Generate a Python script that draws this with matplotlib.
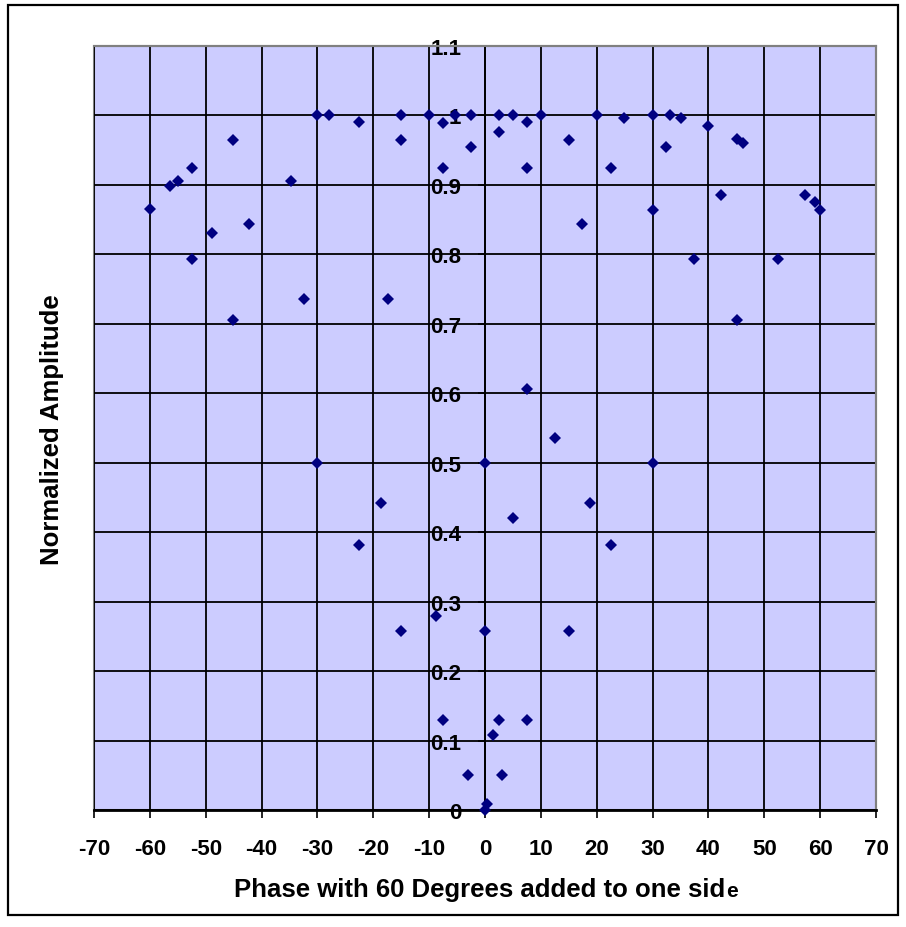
import matplotlib.pyplot as plt
from matplotlib.patches import Rectangle
from matplotlib.ticker import FuncFormatter

# phase (deg) and normalized amplitude
phase = [-60, -56.4, -54.9, -52.5, -52.5, -48.8, -45.1, -45.1, -42.3, -34.8,
         -32.4, -30, -28, -22.5, -17.4, -15.1, -15.1, -10, -7.5, -7.5,
         -5.4, -2.5, -2.5, -30, -18.7, -22.5, -8.8, -15.1, -7.5, -3.1,
         0, 0, 0.3, 0, 1.4, 2.5, 3.1,
         2.5, 2.5, 5, 7.5, 7.5, 10, 15, 17.4, 20, 22.5,
         24.9, 30, 30, 32.4, 33.1, 35.1, 37.5, 39.9, 42.3, 45.1,
         46.2, 45.1, 52.5, 57.3, 59, 60, 7.5, 12.6, 30, 18.75,
         5, 22.5, 15, 7.5]
amplitude = [0.866, 0.898, 0.905, 0.925, 0.793, 0.831, 0.965, 0.706, 0.843, 0.905,
             0.736, 1.0, 1.0, 0.990, 0.736, 1.0, 0.965, 1.0, 0.989, 0.925,
             1.0, 1.0, 0.955, 0.5, 0.442, 0.382, 0.279, 0.258, 0.130, 0.050,
             0.5, 0.258, 0.008, 0.0, 0.108, 0.130, 0.050,
             1.0, 0.976, 1.0, 0.990, 0.925, 1.0, 0.965, 0.843, 1.0, 0.925,
             0.997, 1.0, 0.864, 0.954, 1.0, 0.997, 0.793, 0.985, 0.885, 0.966,
             0.960, 0.706, 0.793, 0.885, 0.875, 0.864, 0.606, 0.536, 0.5, 0.442,
             0.420, 0.382, 0.258, 0.130]

xticks = list(range(-70, 71, 10))
yticks = [i / 10 for i in range(0, 12)]

plt.rcParams['font.family'] = 'Liberation Sans'
plt.rcParams['font.weight'] = 'bold'
plt.rcParams['axes.unicode_minus'] = False

fig = plt.figure(figsize=(9.06, 9.28), dpi=100)
ax = fig.add_axes([94 / 906, 1 - 811 / 928, 782 / 906, 764 / 928])
ax.set_facecolor('#ccccff')

ax.plot(phase, amplitude, 'D', color='#000080', ms=6.2, mew=0, zorder=5,
        clip_on=False)

ax.set_xlim(-70, 70)
ax.set_ylim(0, 1.1)
ax.set_xticks(xticks)
ax.set_yticks(yticks)
ax.yaxis.set_major_formatter(FuncFormatter(lambda v, p: '%g' % round(v, 1)))
ax.grid(True, color='black', lw=1.3, zorder=1)
ax.set_axisbelow(True)

# y axis sits on x = 0
ax.spines['left'].set_position(('data', 0))
ax.spines['left'].set_color('black')
ax.spines['left'].set_linewidth(1.3)
ax.spines['bottom'].set_color('black')
ax.spines['bottom'].set_linewidth(2)
for s in ['top', 'right']:
    ax.spines[s].set_color('#808080')
    ax.spines[s].set_linewidth(1.5)
ax.add_patch(Rectangle((0, 0), 1, 1, transform=ax.transAxes, fill=False,
                       edgecolor='#808080', lw=1.5, zorder=0.5, clip_on=False))

ax.tick_params(axis='x', direction='out', length=6, width=1.2, pad=14,
               labelsize=16, colors='black')
ax.tick_params(axis='y', direction='out', length=5, width=1.2, pad=12,
               labelsize=16, colors='black')
for lbl in ax.get_xticklabels() + ax.get_yticklabels():
    lbl.set_fontweight('bold')

fig.text(52 / 906, 1 - 430 / 928, 'Normalized Amplitude', rotation=90,
         ha='center', va='center', fontsize=18.5, fontweight='bold')
xl = fig.text(480 / 906, 1 - 897 / 928, 'Phase with 60 Degrees added to one sid',
              ha='center', va='baseline', fontsize=18.5, fontweight='bold')
fig.canvas.draw()
bb = xl.get_window_extent().transformed(fig.transFigure.inverted())
fig.text(bb.x1 + 0.0005, 1 - 897 / 928, 'e', ha='left', va='baseline',
         fontsize=15, fontweight='bold')

# outer chart border
fig.patches.append(Rectangle((8 / 906, 1 - 916 / 928), 890 / 906, 910 / 928,
                             transform=fig.transFigure, fill=False,
                             edgecolor='black', lw=1.6))

fig.savefig('out.png', dpi=100)
